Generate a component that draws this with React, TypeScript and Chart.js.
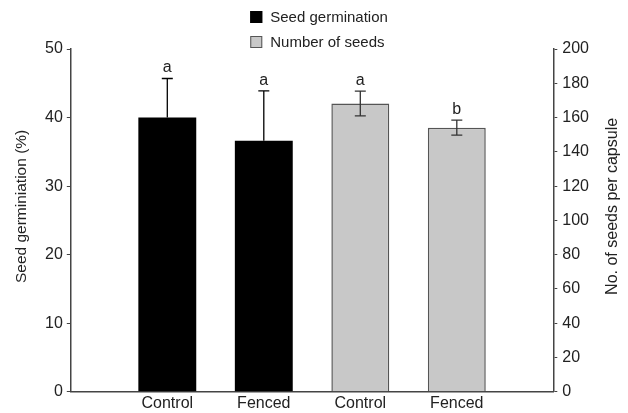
import React, { useEffect, useRef } from 'react';
import { Chart, registerables } from 'chart.js';

Chart.register(...registerables);

const categories = ['Control', 'Fenced', 'Control', 'Fenced'];
const germination = [40, 36.6];
const germinationErr = [5.7, 7.3];
const germinationLetters = ['a', 'a'];
const seeds = [168.2, 154.1];
const seedsErr = [7.2, 4.4];
const seedsLetters = ['a', 'b'];
const legendLabels = ['Seed germination', 'Number of seeds'];
const leftTitle = 'Seed germiniation (%)';
const rightTitle = 'No. of seeds per capsule';

const FONT = "'Liberation Sans', Arial, Helvetica, sans-serif";
const BLACK = '#000000';
const GRAY = '#c8c8c8';
const GRAY_BORDER = '#555555';
const AXIS = '#444444';
const TEXT = '#222222';

const errorConfig = [
  { errs: germinationErr, letters: germinationLetters, both: false, color: BLACK },
  { errs: seedsErr, letters: seedsLetters, both: true, color: '#333333' },
];

const errorPlugin = {
  id: 'errorBars',
  afterDatasetsDraw(chart: any) {
    const ctx = chart.ctx;
    chart.data.datasets.forEach((ds: any, d: number) => {
      const meta = chart.getDatasetMeta(d);
      const yScale = chart.scales[ds.yAxisID];
      const cfg = errorConfig[d];
      meta.data.forEach((bar: any, i: number) => {
        const v = ds.data[i].y;
        const e = cfg.errs[i];
        const top = yScale.getPixelForValue(v + e);
        const bottom = cfg.both ? yScale.getPixelForValue(v - e) : bar.y;
        const x = bar.x;
        const cap = 5.5;
        ctx.save();
        ctx.strokeStyle = cfg.color;
        ctx.lineWidth = 1.3;
        ctx.beginPath();
        ctx.moveTo(x, top);
        ctx.lineTo(x, bottom);
        ctx.moveTo(x - cap, top);
        ctx.lineTo(x + cap, top);
        if (cfg.both) {
          ctx.moveTo(x - cap, bottom);
          ctx.lineTo(x + cap, bottom);
        }
        ctx.stroke();
        ctx.fillStyle = TEXT;
        ctx.font = `16px ${FONT}`;
        ctx.textAlign = 'center';
        ctx.textBaseline = 'alphabetic';
        ctx.fillText(cfg.letters[i], x, top - 6);
        ctx.restore();
      });
    });
  },
};

const legendPlugin = {
  id: 'stackedLegend',
  afterDraw(chart: any) {
    const ctx = chart.ctx;
    const area = chart.chartArea;
    ctx.save();
    ctx.font = `15px ${FONT}`;
    const box = 12;
    const gap = 8;
    const maxW = Math.max(...legendLabels.map((l) => ctx.measureText(l).width));
    const blockW = box + gap + maxW;
    const left = (area.left + area.right) / 2 - blockW / 2 + 7;
    const fills = [BLACK, GRAY];
    const rowGap = 25;
    legendLabels.forEach((label, i) => {
      const cy = area.top - 7 - rowGap * (legendLabels.length - 1 - i);
      ctx.fillStyle = fills[i];
      ctx.fillRect(left, cy - box / 2, box, box);
      ctx.strokeStyle = i === 0 ? BLACK : GRAY_BORDER;
      ctx.lineWidth = 1;
      ctx.strokeRect(left + 0.5, cy - box / 2 + 0.5, box - 1, box - 1);
      ctx.fillStyle = TEXT;
      ctx.textAlign = 'left';
      ctx.textBaseline = 'middle';
      ctx.fillText(label, left + box + gap, cy + 1);
    });
    // axis titles, both reading bottom to top
    const midY = (area.top + area.bottom) / 2 - 14;
    ctx.font = `15.5px ${FONT}`;
    ctx.textAlign = 'center';
    ctx.textBaseline = 'middle';
    ctx.save();
    ctx.translate(22, midY);
    ctx.rotate(-Math.PI / 2);
    ctx.fillText(leftTitle, 0, 0);
    ctx.restore();
    ctx.save();
    ctx.font = `16px ${FONT}`;
    ctx.translate(chart.width - 15, midY);
    ctx.rotate(-Math.PI / 2);
    ctx.fillText(rightTitle, 0, 0);
    ctx.restore();
    ctx.restore();
  },
};

export default function App() {
  const ref = useRef<HTMLCanvasElement>(null);
  useEffect(() => {
    if (!ref.current) return;
    const chart = new Chart(ref.current, {
      type: 'bar',
      data: {
        datasets: [
          {
            label: legendLabels[0],
            data: germination.map((y, i) => ({ x: i + 1, y })),
            backgroundColor: BLACK,
            borderColor: BLACK,
            borderWidth: 0,
            yAxisID: 'y',
            barPercentage: 0.6,
            categoryPercentage: 1,
            grouped: false,
          } as any,
          {
            label: legendLabels[1],
            data: seeds.map((y, i) => ({ x: germination.length + i + 1, y })),
            backgroundColor: GRAY,
            borderColor: GRAY_BORDER,
            borderWidth: 1.5,
            yAxisID: 'y1',
            barPercentage: 0.6,
            categoryPercentage: 1,
            grouped: false,
          } as any,
        ],
      },
      options: {
        animation: false,
        responsive: true,
        maintainAspectRatio: false,
        layout: { padding: { top: 49, right: 34, left: 41, bottom: -2 } },
        plugins: {
          legend: { display: false },
          tooltip: { enabled: false },
        },
        scales: {
          x: {
            type: 'linear',
            offset: false,
            min: 0,
            max: categories.length + 1,
            afterBuildTicks: (axis: any) => {
              axis.ticks = categories.map((_, i) => ({ value: i + 1 }));
            },
            ticks: {
              autoSkip: false,
              maxRotation: 0,
              padding: 2,
              color: TEXT,
              font: { family: FONT, size: 16 },
              callback: (v: any) => categories[Math.round(v) - 1] ?? '',
            },
            grid: { display: true, offset: false, drawOnChartArea: false, drawTicks: false },
            border: { display: true, color: AXIS, width: 1.5 },
          },
          y: {
            type: 'linear',
            position: 'left',
            min: 0,
            max: 50,
            ticks: {
              stepSize: 10,
              padding: 4,
              color: TEXT,
              font: { family: FONT, size: 16 },
            },
            grid: { display: true, drawOnChartArea: false, drawTicks: true, tickLength: 4, color: AXIS },
            border: { display: true, color: AXIS, width: 1.5 },
          },
          y1: {
            type: 'linear',
            position: 'right',
            min: 0,
            max: 200,
            ticks: {
              stepSize: 20,
              padding: 5,
              color: TEXT,
              font: { family: FONT, size: 16 },
            },
            grid: { display: true, drawOnChartArea: false, drawTicks: true, tickLength: 4, color: AXIS },
            border: { display: true, color: AXIS, width: 1.5 },
          },
        },
      } as any,
      plugins: [errorPlugin, legendPlugin],
    });
    return () => chart.destroy();
  }, []);
  return (
    <div style={{ position: 'fixed', left: 0, top: 0, width: 628, height: 413, background: '#fff' }}>
      <canvas ref={ref} />
    </div>
  );
}
